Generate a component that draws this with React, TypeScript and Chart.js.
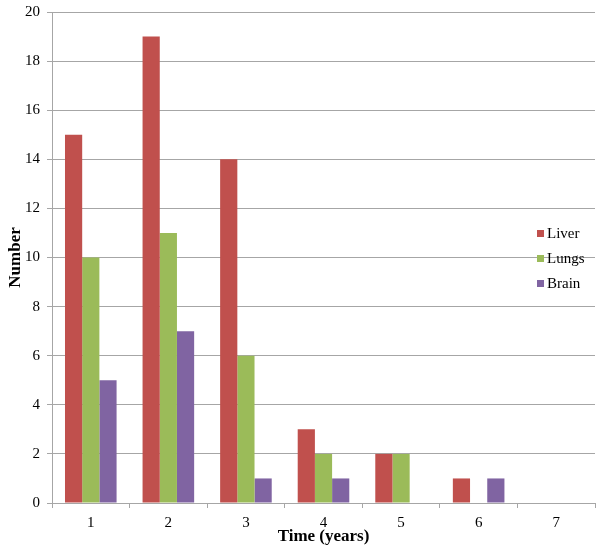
import React, { useEffect, useRef } from "react";
import { Chart, registerables } from "chart.js";

Chart.register(...registerables);

const categories = ["1", "2", "3", "4", "5", "6", "7"];
const liver = [15, 19, 14, 3, 2, 1, 0];
const lungs = [10, 11, 6, 2, 2, 0, 0];
const brain = [5, 7, 1, 1, 0, 1, 0];
const seriesNames = ["Liver", "Lungs", "Brain"];
const seriesColors = ["#C0504D", "#9BBB59", "#8064A2"];

const FONT = "'Liberation Serif', 'Times New Roman', serif";
const GRID = "#a6a6a6";

const legendPlugin = {
  id: "customLegend",
  afterDraw(chart: any) {
    const ctx = chart.ctx;
    ctx.save();
    ctx.font = `15px ${FONT}`;
    ctx.textBaseline = "middle";
    chart.data.datasets.forEach((ds: any, i: number) => {
      const y = 234 + i * 25;
      ctx.fillStyle = ds.backgroundColor;
      ctx.fillRect(537, y - 4, 7, 7);
      ctx.fillStyle = "#000";
      ctx.fillText(ds.label, 547, y);
    });
    ctx.restore();
  },
};

export default function App() {
  const ref = useRef<HTMLCanvasElement>(null);
  useEffect(() => {
    if (!ref.current) return;
    const chart = new Chart(ref.current, {
      type: "bar",
      data: {
        labels: categories,
        datasets: [liver, lungs, brain].map((d, i) => ({
          label: seriesNames[i],
          data: d,
          backgroundColor: seriesColors[i],
          borderWidth: 0,
          barPercentage: 1,
          categoryPercentage: 0.665,
        })),
      },
      options: {
        animation: false,
        responsive: false,
        maintainAspectRatio: false,
        layout: { padding: { top: 12, right: 7, left: 0, bottom: 0 } },
        plugins: { legend: { display: false }, tooltip: { enabled: false } },
        scales: {
          x: {
            grid: { display: true, drawOnChartArea: false, offset: true, tickLength: 5, color: GRID },
            border: { color: GRID, width: 1 },
            ticks: { color: "#000", font: { family: FONT, size: 15 }, padding: 6 },
            title: {
              display: true,
              text: "Time (years)",
              color: "#000",
              font: { family: FONT, size: 17, weight: "bold" },
              padding: { top: 0, bottom: 4 },
            },
            afterFit: (s: any) => {
              s.height = 48;
            },
          },
          y: {
            min: 0,
            max: 20,
            ticks: { stepSize: 2, color: "#000", font: { family: FONT, size: 15 }, padding: 7 },
            grid: { color: GRID, tickLength: 5, lineWidth: 1 },
            border: { color: GRID, width: 1 },
            title: {
              display: true,
              text: "Number",
              color: "#000",
              font: { family: FONT, size: 17, weight: "bold" },
              padding: { top: 5, bottom: 0 },
            },
            afterFit: (s: any) => {
              s.width = 52;
              s.paddingTop = 0;
              s.paddingBottom = 0;
            },
          },
        },
      },
      plugins: [legendPlugin],
    });
    return () => chart.destroy();
  }, []);
  return (
    <div style={{ position: "absolute", left: 0, top: 0, width: 602, height: 551, background: "#fff" }}>
      <canvas ref={ref} width={602} height={551} />
    </div>
  );
}
